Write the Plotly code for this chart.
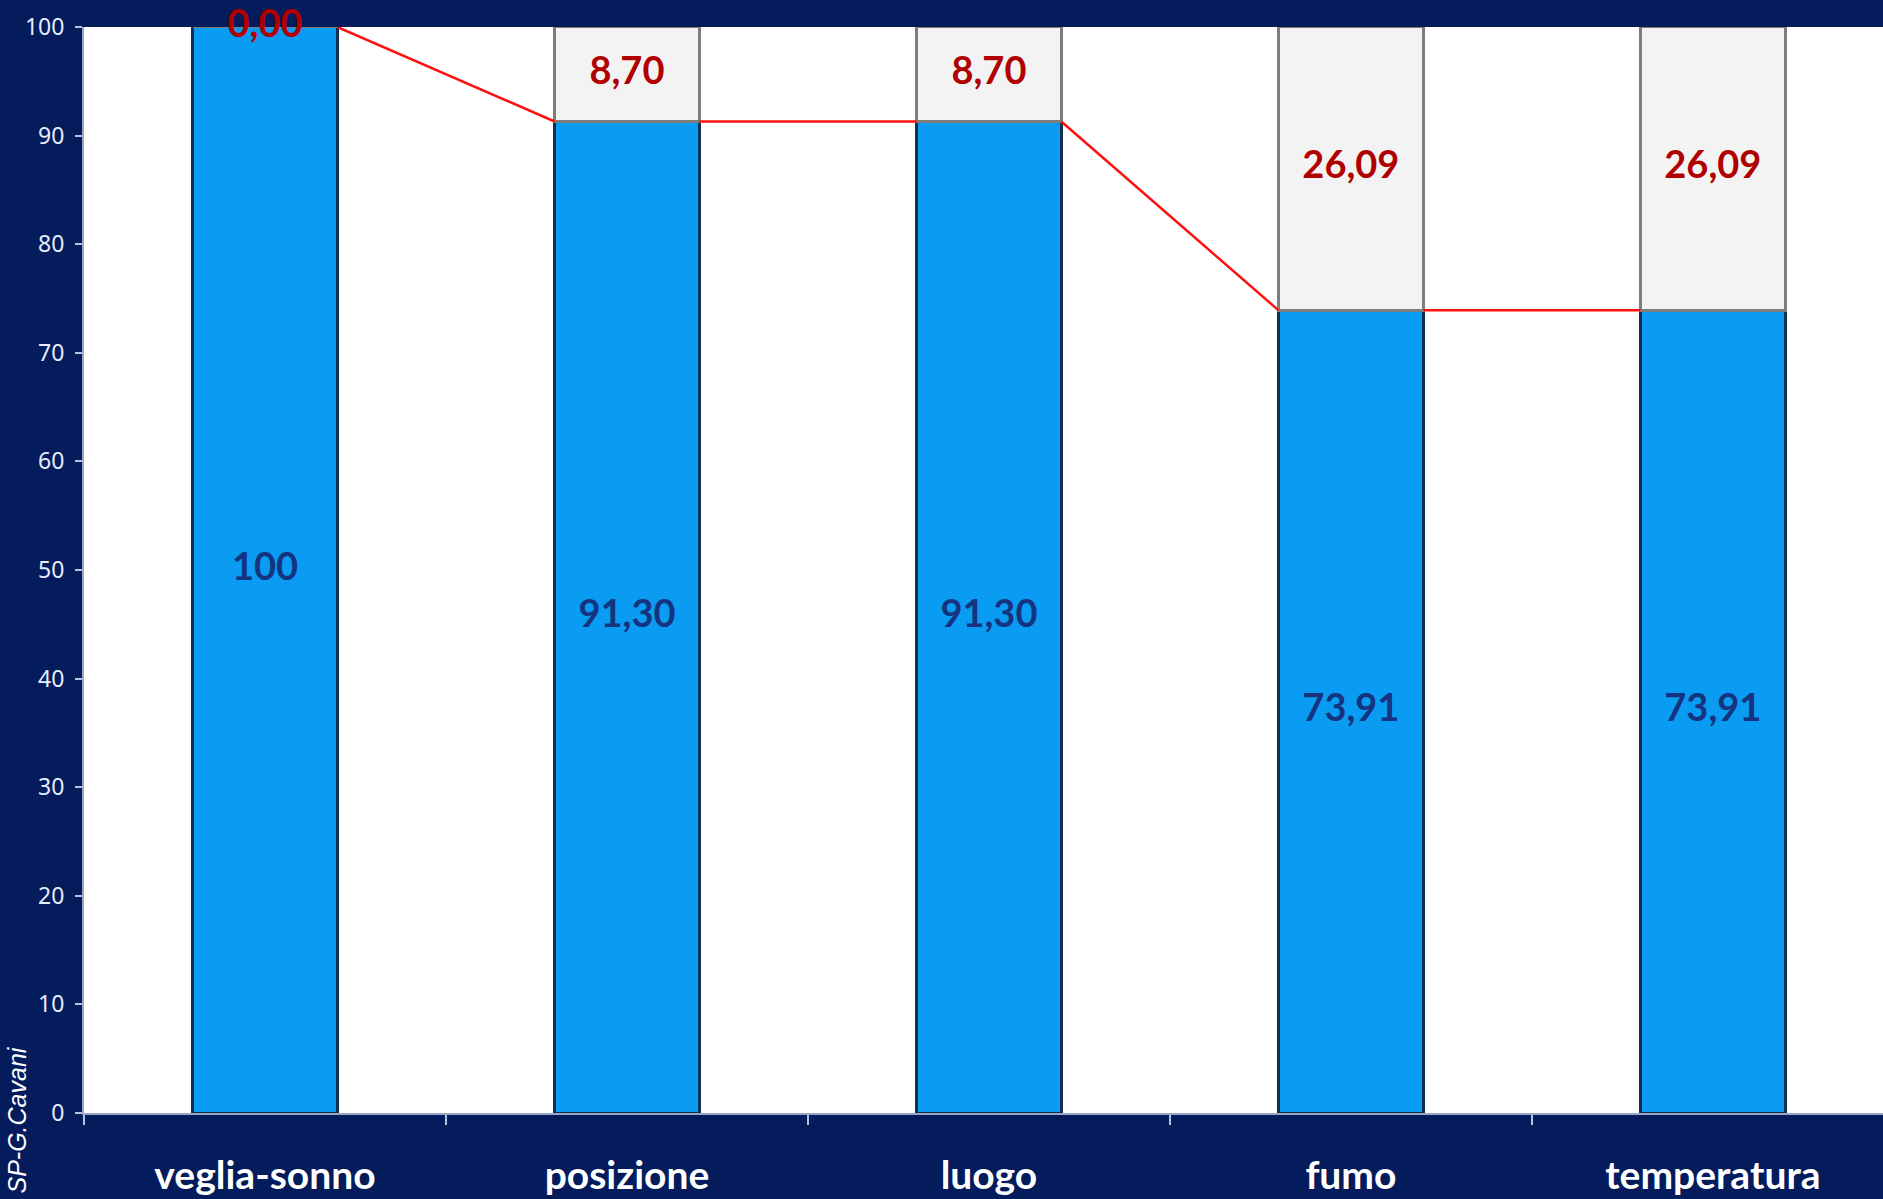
import plotly.graph_objects as go

categories = ["veglia-sonno", "posizione", "luogo", "fumo", "temperatura"]
base_values = [100, 91.30, 91.30, 73.91, 73.91]
top_values = [0.00, 8.70, 8.70, 26.09, 26.09]
base_labels = ["100", "91,30", "91,30", "73,91", "73,91"]
top_labels = ["0,00", "8,70", "8,70", "26,09", "26,09"]
y_ticks = [0, 10, 20, 30, 40, 50, 60, 70, 80, 90, 100]

BG = "#041b5c"
BAR_W = 0.4
xs = list(range(len(categories)))

fig = go.Figure()

fig.add_trace(go.Bar(
    x=xs, y=base_values, width=BAR_W,
    marker=dict(color="#0a9bf2", line=dict(color="#0d2e4f", width=2.5)),
    hoverinfo="skip", showlegend=False,
))
fig.add_trace(go.Bar(
    x=xs, y=top_values, width=BAR_W,
    marker=dict(color="#f3f3f3", line=dict(color="#7d7d7d", width=2.5)),
    hoverinfo="skip", showlegend=False,
))

# series lines between bar edges
lx, ly = [], []
for i in range(len(categories) - 1):
    lx += [xs[i] + BAR_W / 2, xs[i + 1] - BAR_W / 2, None]
    ly += [base_values[i], base_values[i + 1], None]
fig.add_trace(go.Scatter(
    x=lx, y=ly, mode="lines", line=dict(color="#ff1010", width=2.5),
    hoverinfo="skip", showlegend=False, cliponaxis=False,
))

# labels
fig.add_trace(go.Scatter(
    x=xs, y=[b / 2 for b in base_values], mode="text", text=base_labels,
    textfont=dict(family="Lato", size=38, color="#15337f", weight="bold"),
    hoverinfo="skip", showlegend=False, cliponaxis=False,
))
fig.add_trace(go.Scatter(
    x=xs, y=[b + t / 2 for b, t in zip(base_values, top_values)], mode="text", text=top_labels,
    textfont=dict(family="Lato", size=38, color="#b00000", weight="bold"),
    hoverinfo="skip", showlegend=False, cliponaxis=False,
))

fig.update_layout(
    width=1883, height=1199,
    barmode="stack",
    paper_bgcolor=BG, plot_bgcolor="#ffffff",
    margin=dict(l=84, r=0, t=27, b=86, autoexpand=False),
    bargap=0.6,
    xaxis=dict(
        range=[-0.5, 4.47], tickmode="array", tickvals=xs, ticktext=categories,
        ticks="", showgrid=False, zeroline=False, automargin=False,
        showline=True, linecolor="#9aa6c4", linewidth=2,
        tickfont=dict(family="Lato", size=39, color="#ffffff", weight="bold"),
        ticklabelstandoff=27,
        minor=dict(tickmode="array", tickvals=[-0.5, 0.5, 1.5, 2.5, 3.5, 4.5],
                   ticks="outside", ticklen=10, tickwidth=1.5, tickcolor="#b8c2dc"),
    ),
    yaxis=dict(
        range=[0, 100], tickmode="array", tickvals=y_ticks,
        ticks="outside", ticklen=7, tickwidth=1.5, tickcolor="#b8c2dc",
        showgrid=False, zeroline=False, automargin=False,
        showline=True, linecolor="#9aa6c4", linewidth=2,
        tickfont=dict(family="Noto Sans", size=23, color="#e6ecf8"),
        ticklabelstandoff=6,
    ),
    annotations=[dict(
        text="<i>SP-G.Cavani</i>", textangle=-90, xref="paper", yref="paper",
        x=-84 / 1799, y=-86 / 1086, xanchor="left", yanchor="bottom",
        xshift=0, yshift=3, showarrow=False,
        font=dict(family="Liberation Sans", size=25, color="#ffffff"),
    )],
)

fig.write_html("out.html")
